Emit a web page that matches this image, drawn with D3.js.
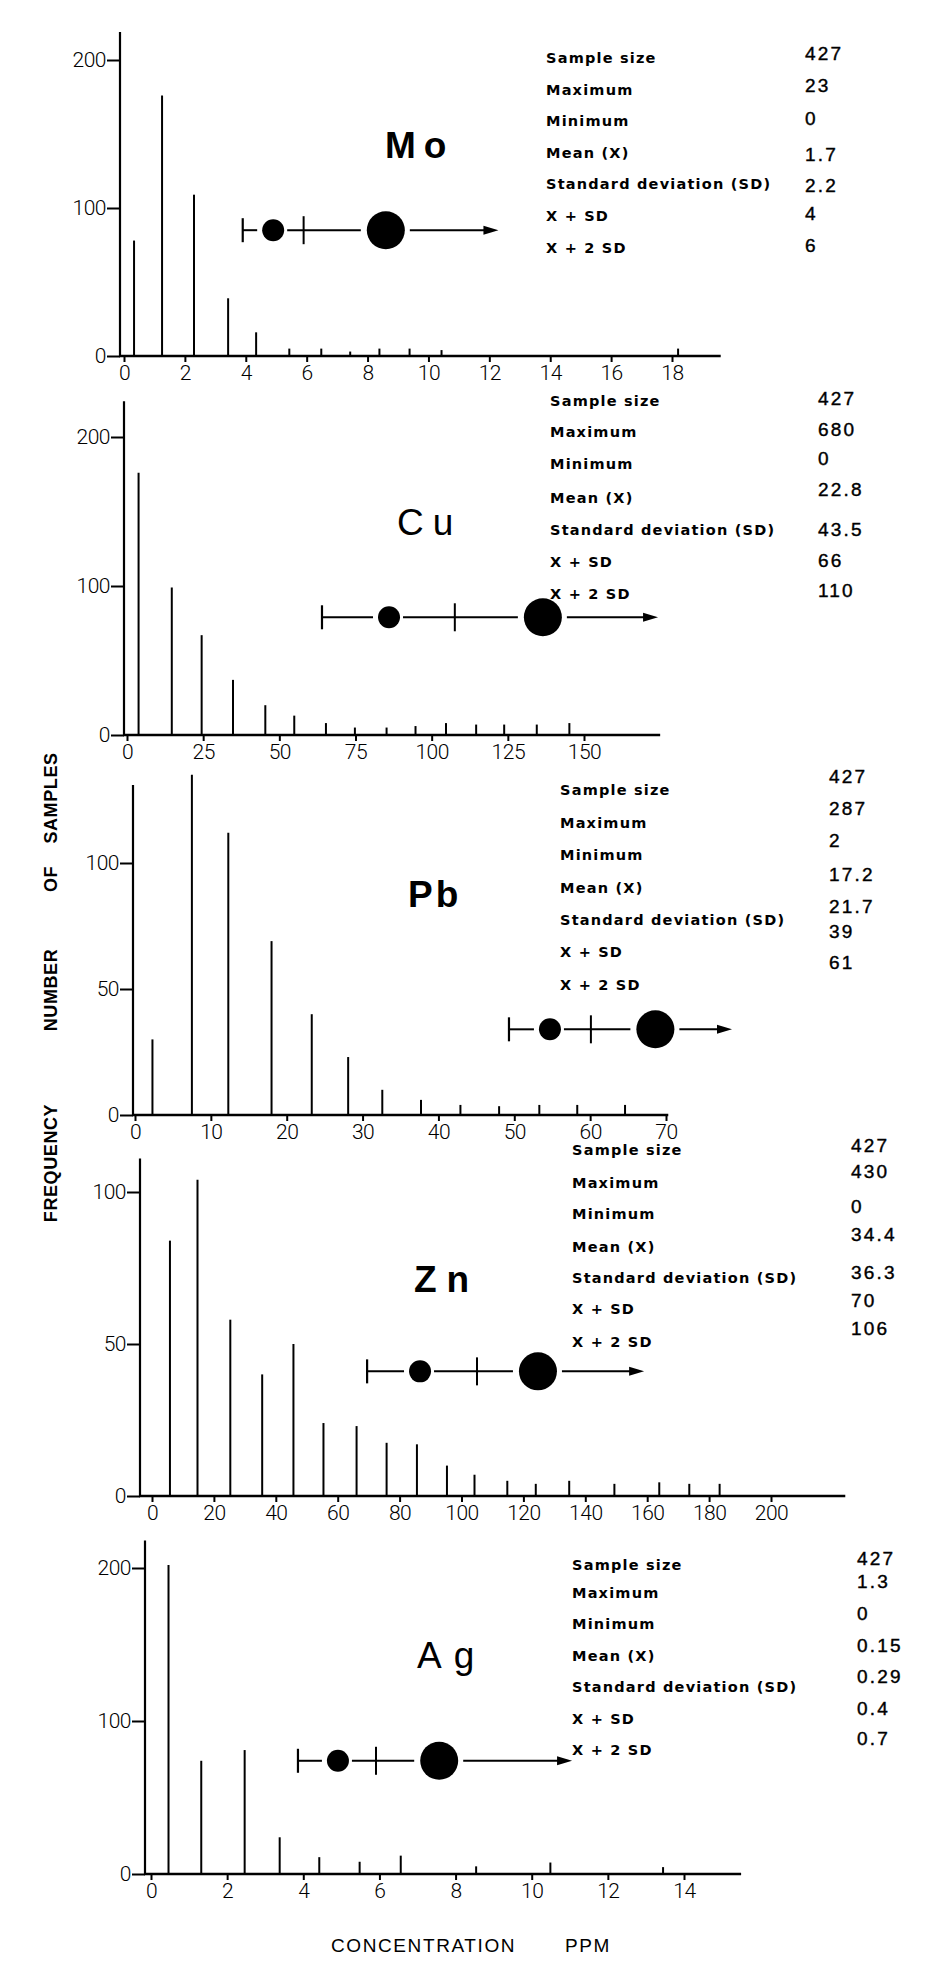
<!DOCTYPE html>
<html>
<head>
<meta charset="utf-8">
<script src="https://cdnjs.cloudflare.com/ajax/libs/d3/7.8.5/d3.min.js"></script>
<style>
  html, body { margin: 0; padding: 0; background: #fff; }
  svg { display: block; }
</style>
</head>
<body>
<div id="container"></div>
<script>
// Frequency distributions of Mo, Cu, Pb, Zn, Ag (ppm) – stick histograms

// ---------------------------------------------------------------------------
// Data
// ---------------------------------------------------------------------------
const statLabels = ['Sample size', 'Maximum', 'Minimum', 'Mean (X)', 'Standard deviation (SD)', 'X + SD', 'X + 2 SD'];

// Mo
const moConc   = [0.33, 1.25, 2.3, 3.42, 4.34, 5.43, 6.48, 7.43, 8.39, 9.38, 10.43, 18.2];
const moFreq   = [78, 176, 109, 39, 16, 5, 5, 3, 5, 5, 4, 5];
const moStats  = ['427', '23', '0', '1.7', '2.2', '4', '6'];
const moXTicks = [0, 2, 4, 6, 8, 10, 12, 14, 16, 18];
const moYTicks = [0, 100, 200];
const moMarker = [3.9, 4.9, 5.9, 8.6, 12.3];   // bracket, small dot, bar, big dot, arrow tip
const moMarkerLevel = 85;

// Cu
const cuConc   = [3.8, 14.7, 24.5, 34.8, 45.4, 54.9, 65.3, 74.8, 85.2, 94.7, 104.7, 114.6, 123.8, 134.5, 145.2];
const cuFreq   = [176, 99, 67, 37, 20, 13, 8, 5, 5, 6, 8, 7, 7, 7, 8];
const cuStats  = ['427', '680', '0', '22.8', '43.5', '66', '110'];
const cuXTicks = [0, 25, 50, 75, 100, 125, 150];
const cuYTicks = [0, 100, 200];
const cuMarker = [64, 86, 107.6, 136.5, 174.3];
const cuMarkerLevel = 79;

// Pb
const pbConc   = [2.3, 7.5, 12.3, 18.0, 23.3, 28.1, 32.6, 37.7, 42.9, 48, 53.3, 58.3, 64.6];
const pbFreq   = [30, 135, 112, 69, 40, 23, 10, 6, 4, 3.5, 4, 4, 4];
const pbStats  = ['427', '287', '2', '17.2', '21.7', '39', '61'];
const pbXTicks = [0, 10, 20, 30, 40, 50, 60, 70];
const pbYTicks = [0, 50, 100];
const pbMarker = [49.3, 54.7, 60.1, 68.6, 78.7];
const pbMarkerLevel = 34;

// Zn
const znConc   = [5.8, 14.7, 25.3, 35.6, 45.7, 55.4, 66.1, 75.8, 85.6, 95.3, 104.2, 114.8, 124, 134.8, 149.4, 163.9, 173.6, 183.4];
const znFreq   = [84, 104, 58, 40, 50, 24, 23, 17.5, 17, 10, 7, 5, 4, 5, 4, 4.5, 4, 4];
const znStats  = ['427', '430', '0', '34.4', '36.3', '70', '106'];
const znXTicks = [0, 20, 40, 60, 80, 100, 120, 140, 160, 180, 200];
const znYTicks = [0, 50, 100];
const znMarker = [69.5, 86.6, 105, 124.7, 159];
const znMarkerLevel = 41;

// Ag
const agConc   = [0.46, 1.32, 2.46, 3.38, 4.42, 5.48, 6.56, 8.54, 10.49, 13.45];
const agFreq   = [202, 74, 81, 24, 11, 8, 12, 5, 7.5, 4.5];
const agStats  = ['427', '1.3', '0', '0.15', '0.29', '0.4', '0.7'];
const agXTicks = [0, 2, 4, 6, 8, 10, 12, 14];
const agYTicks = [0, 100, 200];
const agMarker = [3.86, 4.91, 5.91, 7.57, 11.06];
const agMarkerLevel = 74;

// ---------------------------------------------------------------------------
// Layout (pixels)
// ---------------------------------------------------------------------------
const W = 949, H = 1978;
const FONT = '"Liberation Sans", Arial, sans-serif';
const TICK_FONT = 'Roboto, "Liberation Sans", Arial, sans-serif';
const STAT_FONT = '"DejaVu Sans", Verdana, sans-serif';

const panels = [
  { name: 'Mo', conc: moConc, freq: moFreq, stats: moStats, xTicks: moXTicks, yTicks: moYTicks,
    marker: moMarker, level: moMarkerLevel,
    xDom: [0, 18], xPx: [124, 672], xEnd: 19.6, yDom: [0, 200], yPx: [356, 60], yTop: 219, yAxisX: 120,
    title: { x: 385, y: 158, weight: 700, spacing: 8 },
    labelX: 546, valueX: 805,
    labelY: [63, 95, 126, 158, 189, 221, 253], valueY: [60, 92, 125, 161, 192, 220, 252] },
  { name: 'Cu', conc: cuConc, freq: cuFreq, stats: cuStats, xTicks: cuXTicks, yTicks: cuYTicks,
    marker: cuMarker, level: cuMarkerLevel,
    xDom: [0, 150], xPx: [127, 584], xEnd: 175, yDom: [0, 200], yPx: [735, 437], yTop: 224, yAxisX: 124,
    title: { x: 397, y: 535, weight: 400, spacing: 9 },
    labelX: 550, valueX: 818,
    labelY: [406, 437, 469, 503, 535, 567, 599], valueY: [405, 436, 465, 496, 536, 567, 597] },
  { name: 'Pb', conc: pbConc, freq: pbFreq, stats: pbStats, xTicks: pbXTicks, yTicks: pbYTicks,
    marker: pbMarker, level: pbMarkerLevel,
    xDom: [0, 70], xPx: [135, 666], xEnd: 70.3, yDom: [0, 100], yPx: [1115, 863], yTop: 131, yAxisX: 133,
    title: { x: 408, y: 907, weight: 700, spacing: 3 },
    labelX: 560, valueX: 829,
    labelY: [795, 828, 860, 893, 925, 957, 990], valueY: [783, 815, 847, 881, 913, 938, 969] },
  { name: 'Zn', conc: znConc, freq: znFreq, stats: znStats, xTicks: znXTicks, yTicks: znYTicks,
    marker: znMarker, level: znMarkerLevel,
    xDom: [0, 200], xPx: [152, 771], xEnd: 224, yDom: [0, 100], yPx: [1496, 1192], yTop: 111, yAxisX: 140,
    title: { x: 414, y: 1292, weight: 700, spacing: 10 },
    labelX: 572, valueX: 851,
    labelY: [1155, 1188, 1219, 1252, 1283, 1314, 1347], valueY: [1152, 1178, 1213, 1241, 1279, 1307, 1335] },
  { name: 'Ag', conc: agConc, freq: agFreq, stats: agStats, xTicks: agXTicks, yTicks: agYTicks,
    marker: agMarker, level: agMarkerLevel,
    xDom: [0, 14], xPx: [151, 684], xEnd: 15.5, yDom: [0, 200], yPx: [1874, 1568], yTop: 218, yAxisX: 145,
    title: { x: 417, y: 1668, weight: 400, spacing: 12 },
    labelX: 572, valueX: 857,
    labelY: [1570, 1598, 1629, 1661, 1692, 1724, 1755], valueY: [1565, 1588, 1620, 1652, 1683, 1715, 1745] }
];

// ---------------------------------------------------------------------------
// Helpers
// ---------------------------------------------------------------------------
function seg(g, x1, x2, y) {
  if (x2 <= x1) return;
  g.append('line').attr('x1', x1).attr('x2', x2).attr('y1', y).attr('y2', y)
    .attr('stroke', '#000').attr('stroke-width', 2);
}

// |-•-+--●--->  symbol drawn on the data scale
function drawMarker(g, x, y, m, level) {
  const [b, d1, t, d2, tip] = m;
  const cy = y(level);
  const r1 = 11, r2 = 19;

  g.append('line').attr('x1', x(b)).attr('x2', x(b)).attr('y1', cy - 12).attr('y2', cy + 12)
    .attr('stroke', '#000').attr('stroke-width', 2.2);
  seg(g, x(b), x(d1) - r1 - 5, cy);
  g.append('circle').attr('cx', x(d1)).attr('cy', cy).attr('r', r1).attr('fill', '#000');
  seg(g, x(d1) + r1 + 3, x(d2) - r2 - 6, cy);
  g.append('line').attr('x1', x(t)).attr('x2', x(t)).attr('y1', cy - 14).attr('y2', cy + 14)
    .attr('stroke', '#000').attr('stroke-width', 2);
  g.append('circle').attr('cx', x(d2)).attr('cy', cy).attr('r', r2).attr('fill', '#000');
  seg(g, x(d2) + r2 + 5, x(tip) - 12, cy);
  g.append('path')
    .attr('d', `M${x(tip)},${cy} L${x(tip) - 15},${cy - 4.5} L${x(tip) - 15},${cy + 4.5} Z`)
    .attr('fill', '#000');
}

// ---------------------------------------------------------------------------
// Draw
// ---------------------------------------------------------------------------
const svg = d3.select('#container')
  .append('svg')
  .attr('width', W)
  .attr('height', H);

svg.append('rect').attr('width', W).attr('height', H).attr('fill', '#fff');

panels.forEach((p) => {
  const x = d3.scaleLinear().domain(p.xDom).range(p.xPx);
  const y = d3.scaleLinear().domain(p.yDom).range(p.yPx);
  const g = svg.append('g').attr('class', `panel-${p.name}`);

  // sticks
  g.selectAll('line.bar')
    .data(d3.zip(p.conc, p.freq))
    .join('line')
    .attr('class', 'bar')
    .attr('x1', (d) => x(d[0]))
    .attr('x2', (d) => x(d[0]))
    .attr('y1', y(0))
    .attr('y2', (d) => y(d[1]))
    .attr('stroke', '#000')
    .attr('stroke-width', 2);

  // y axis line + ticks
  g.append('line')
    .attr('x1', p.yAxisX).attr('x2', p.yAxisX)
    .attr('y1', y(0)).attr('y2', y(p.yTop))
    .attr('stroke', '#000').attr('stroke-width', 2.2);

  const yAxis = g.append('g')
    .attr('transform', `translate(${p.yAxisX},0)`)
    .call(d3.axisLeft(y).tickValues(p.yTicks).tickSize(13).tickPadding(1).tickFormat(d3.format('d')));
  yAxis.select('.domain').remove();
  yAxis.selectAll('line').attr('stroke', '#000').attr('stroke-width', 2);
  yAxis.selectAll('text')
    .attr('font-family', TICK_FONT).attr('font-weight', 300).attr('font-size', 21)
    .attr('letter-spacing', -0.5)
    .attr('fill', '#000');

  // x axis line + ticks
  g.append('line')
    .attr('x1', p.yAxisX - 1).attr('x2', x(p.xEnd))
    .attr('y1', y(0)).attr('y2', y(0))
    .attr('stroke', '#000').attr('stroke-width', 2.4);

  const xAxis = g.append('g')
    .attr('transform', `translate(0,${y(0)})`)
    .call(d3.axisBottom(x).tickValues(p.xTicks).tickSize(6).tickPadding(3).tickFormat(d3.format('d')));
  xAxis.select('.domain').remove();
  xAxis.selectAll('line').attr('stroke', '#000').attr('stroke-width', 2);
  xAxis.selectAll('text')
    .attr('font-family', TICK_FONT).attr('font-weight', 300).attr('font-size', 21)
    .attr('letter-spacing', -0.5)
    .attr('fill', '#000');

  // element name
  g.append('text')
    .attr('x', p.title.x).attr('y', p.title.y)
    .attr('font-family', FONT).attr('font-size', 37)
    .attr('font-weight', p.title.weight)
    .attr('letter-spacing', p.title.spacing)
    .attr('fill', '#000')
    .text(p.name);

  // statistics table
  g.selectAll('text.stat-label')
    .data(statLabels)
    .join('text')
    .attr('class', 'stat-label')
    .attr('x', p.labelX)
    .attr('y', (d, i) => p.labelY[i])
    .attr('font-family', STAT_FONT).attr('font-weight', 700).attr('font-size', 14.5)
    .attr('letter-spacing', 1.2)
    .attr('fill', '#000')
    .text((d) => d);

  g.selectAll('text.stat-value')
    .data(p.stats)
    .join('text')
    .attr('class', 'stat-value')
    .attr('x', p.valueX)
    .attr('y', (d, i) => p.valueY[i])
    .attr('font-family', FONT).attr('font-size', 19)
    .attr('letter-spacing', 2.2)
    .attr('fill', '#000')
    .attr('stroke', '#000').attr('stroke-width', 0.4)
    .text((d) => d);

  drawMarker(g, x, y, p.marker, p.level);
});

// ---------------------------------------------------------------------------
// Shared axis titles
// ---------------------------------------------------------------------------
const yTitle = [
  { word: 'FREQUENCY', cy: 1163 },
  { word: 'NUMBER', cy: 990 },
  { word: 'OF', cy: 879 },
  { word: 'SAMPLES', cy: 798 }
];
svg.selectAll('text.ytitle')
  .data(yTitle)
  .join('text')
  .attr('class', 'ytitle')
  .attr('transform', (d) => `translate(57,${d.cy}) rotate(-90)`)
  .attr('text-anchor', 'middle')
  .attr('font-family', FONT).attr('font-weight', 700).attr('font-size', 18)
  .attr('letter-spacing', 0.6)
  .attr('fill', '#000')
  .text((d) => d.word);

svg.append('text')
  .attr('x', 331).attr('y', 1952)
  .attr('font-family', FONT).attr('font-size', 19)
  .attr('letter-spacing', 1.6)
  .attr('fill', '#000')
  .text('CONCENTRATION');
svg.append('text')
  .attr('x', 565).attr('y', 1952)
  .attr('font-family', FONT).attr('font-size', 19)
  .attr('letter-spacing', 1.6)
  .attr('fill', '#000')
  .text('PPM');
</script>
</body>
</html>
